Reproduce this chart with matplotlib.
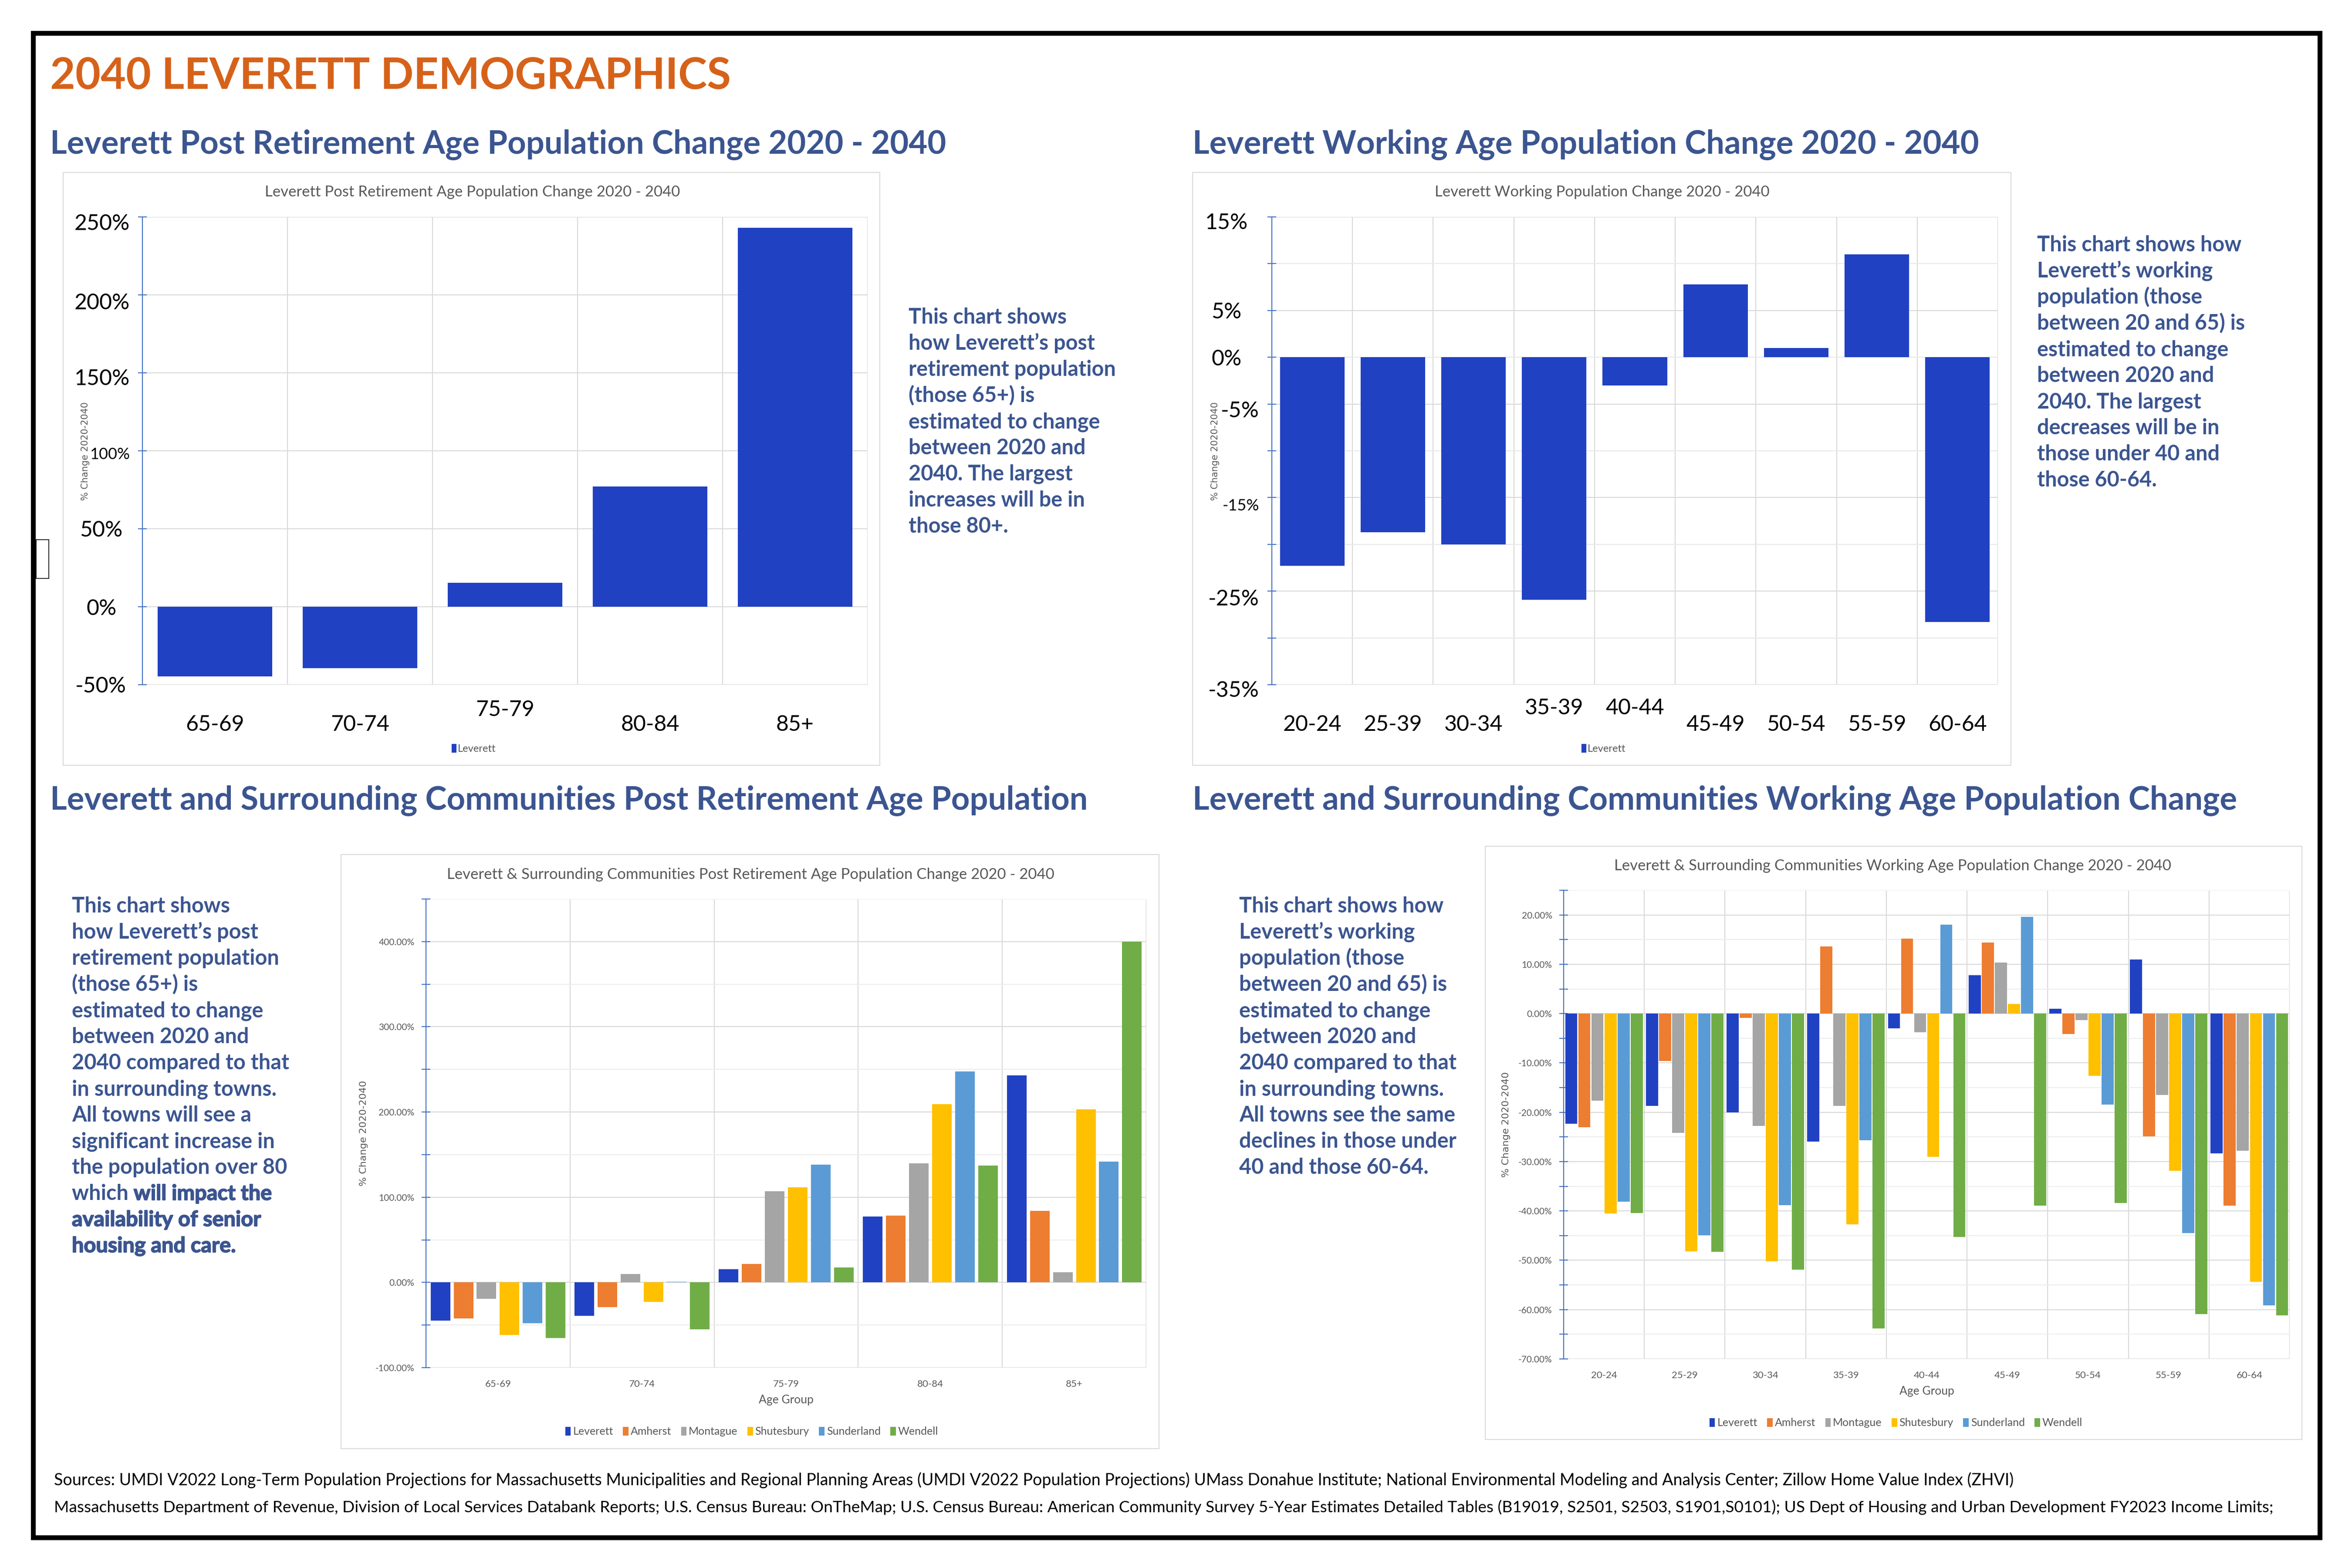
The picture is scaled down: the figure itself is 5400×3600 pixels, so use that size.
import matplotlib
matplotlib.use('Agg')
import numpy as np
import matplotlib.pyplot as plt
import matplotlib.transforms as mtrans
import matplotlib.patheffects as pe
from matplotlib.patches import Rectangle
from matplotlib.ticker import MultipleLocator

plt.rcParams['font.family'] = ['Lato', 'DejaVu Sans']

# ---- data (percent change 2020 -> 2040) ----
post_groups = ['65-69', '70-74', '75-79', '80-84', '85+']
post_leverett = [-44.7, -39.3, 15.5, 77.2, 242.9]
post_amherst = [-42.0, -28.8, 21.9, 78.5, 84.0]
post_montague = [-19.0, 10.0, 106.8, 139.7, 11.9]
post_shutesbury = [-61.6, -22.8, 111.4, 209.1, 203.2]
post_sunderland = [-48.0, 0.5, 138.4, 247.5, 141.6]
post_wendell = [-65.3, -54.8, 17.8, 137.4, 400.0]

work_groups = ['20-24', '25-39', '30-34', '35-39', '40-44', '45-49', '50-54', '55-59', '60-64']
work_groups_all = ['20-24', '25-29', '30-34', '35-39', '40-44', '45-49', '50-54', '55-59', '60-64']
work_leverett = [-22.3, -18.7, -20.0, -25.9, -3.0, 7.8, 1.0, 11.0, -28.3]
work_amherst = [-23.0, -9.6, -0.9, 13.6, 15.2, 14.4, -4.1, -24.9, -38.9]
work_montague = [-17.6, -24.2, -22.8, -18.7, -3.8, 10.3, -1.3, -16.5, -27.8]
work_shutesbury = [-40.5, -48.2, -50.2, -42.7, -29.0, 2.0, -12.6, -31.9, -54.4]
work_sunderland = [-38.1, -44.9, -38.8, -25.7, 18.0, 19.6, -18.4, -44.5, -59.1]
work_wendell = [-40.4, -48.3, -51.9, -63.8, -45.3, -38.9, -38.4, -60.9, -61.2]

towns = ['Leverett', 'Amherst', 'Montague', 'Shutesbury', 'Sunderland', 'Wendell']
town_colors = ['#2141C3', '#ED7D31', '#A5A5A5', '#FFC000', '#5B9BD5', '#70AD47']

ORANGE = '#D6621A'
NAVY = '#3B5590'
GRAY = '#595959'
GRID = '#D9D9D9'
AXBLUE = '#4472C4'

W, H = 5400, 3600
fig = plt.figure(figsize=(54, 36), dpi=100)


def rect(l, t, r, b):
    return [l / W, 1 - b / H, (r - l) / W, (b - t) / H]


def pt(x, y):
    return x / W, 1 - y / H


def shift(artist, dx, dy):
    off = mtrans.ScaledTranslation(dx / 100, -dy / 100, fig.dpi_scale_trans)
    artist.set_transform(artist.get_transform() + off)


def box(l, t, r, b, ec=GRID, lw=1.5):
    fig.patches.append(Rectangle(pt(l, b), (r - l) / W, (b - t) / H,
                                 transform=fig.transFigure, fill=False,
                                 ec=ec, lw=lw))


def base_axis(ax, n, ymin, ymax, step):
    ax.set_xlim(-0.5, n - 0.5)
    ax.set_ylim(ymin, ymax)
    for s in ['top', 'right', 'bottom']:
        ax.spines[s].set_visible(False)
    ax.spines['left'].set_color(AXBLUE)
    ax.spines['left'].set_linewidth(1.6)
    ax.spines['left'].set_zorder(6)
    ax.yaxis.set_major_locator(MultipleLocator(step))
    ax.tick_params(axis='y', direction='inout', length=14, width=1.6, color=AXBLUE)
    ax.tick_params(axis='x', length=0)
    for x in np.arange(-0.5, n, 1.0):
        ax.axvline(x, color=GRID, lw=1.6, zorder=0)


# ---- frame ----
box(76, 76, 5326, 3530, ec='black', lw=8)
box(83, 1239, 112, 1328, ec='black', lw=1.2)

fig.text(*pt(115, 204), '2040 LEVERETT DEMOGRAPHICS', color=ORANGE,
         fontsize=72, fontweight='bold', va='baseline')

headings = [
    (115, 353, 'Leverett Post Retirement Age Population Change 2020 - 2040'),
    (2738, 353, 'Leverett Working Age Population Change 2020 - 2040'),
    (115, 1859, 'Leverett and Surrounding Communities Post Retirement Age Population'),
    (2738, 1859, 'Leverett and Surrounding Communities Working Age Population Change'),
]
for x, y, s in headings:
    fig.text(*pt(x, y), s, color=NAVY, fontsize=53.5, fontweight='bold', va='baseline')

heavy = [pe.withStroke(linewidth=1.4, foreground=NAVY)]


def write_block(x, y0, lines, size=35, gap=60):
    for i, line in enumerate(lines):
        y = y0 + i * gap
        if isinstance(line, list):
            first = fig.text(*pt(x, y), line[0][0], color=NAVY, fontsize=size,
                             fontweight='bold', va='baseline',
                             path_effects=heavy if line[0][1] else None)
            if len(line) > 1:
                fig.canvas.draw()
                bb = first.get_window_extent()
                fig.text(bb.x1 / W, 1 - y / H, line[1][0], color=NAVY, fontsize=size,
                         fontweight='bold', va='baseline',
                         path_effects=heavy if line[1][1] else None)
        else:
            fig.text(*pt(x, y), line, color=NAVY, fontsize=size,
                     fontweight='bold', va='baseline')


write_block(2086, 743, ['This chart shows', 'how Leverett\u2019s post',
                        'retirement population', '(those 65+) is',
                        'estimated to change', 'between 2020 and',
                        '2040. The largest', 'increases will be in', 'those 80+.'])
write_block(4677, 577, ['This chart shows how', 'Leverett\u2019s working',
                        'population (those', 'between 20 and 65) is',
                        'estimated to change', 'between 2020 and',
                        '2040. The largest', 'decreases will be in',
                        'those under 40 and', 'those 60-64.'])
write_block(165, 2095, ['This chart shows', 'how Leverett\u2019s post',
                        'retirement population', '(those 65+) is',
                        'estimated to change', 'between 2020 and',
                        '2040 compared to that', 'in surrounding towns.',
                        'All towns will see a', 'significant increase in',
                        'the population over 80',
                        [('which ', False), ('will impact the', True)],
                        [('availability of senior', True)],
                        [('housing and care.', True)]])
write_block(2845, 2095, ['This chart shows how', 'Leverett\u2019s working',
                         'population (those', 'between 20 and 65) is',
                         'estimated to change', 'between 2020 and',
                         '2040 compared to that', 'in surrounding towns.',
                         'All towns see the same', 'declines in those under',
                         '40 and those 60-64.'])

# ---- chart 1: Leverett post retirement ----
box(145, 396, 2020, 1757)
ax1 = fig.add_axes(rect(327, 498, 1992, 1572))
base_axis(ax1, len(post_groups), -50, 250, 50)
for y in range(-50, 251, 50):
    ax1.axhline(y, color=GRID, lw=1.6, zorder=0)
x1 = np.arange(len(post_groups))
ax1.bar(x1, post_leverett, width=0.79, color=town_colors[0], zorder=3, label='Leverett')
ax1.set_yticks(range(-50, 251, 50))
ax1.set_yticklabels([f'{v}%' for v in range(-50, 251, 50)], fontsize=36)
ax1.tick_params(axis='y', pad=14)
y1_shift = {-50: (-8, 0), 0: (-30, 0), 50: (-16, 0), 100: (0, 6), 150: (0, 10), 200: (0, 14), 250: (0, 12)}
for v, lab in zip(range(-50, 251, 50), ax1.get_yticklabels()):
    if v == 100:
        lab.set_fontsize(26)
    shift(lab, *y1_shift[v])
ax1.set_xticks(x1)
ax1.set_xticklabels(post_groups, fontsize=36)
ax1.tick_params(axis='x', pad=50)
shift(ax1.get_xticklabels()[2], 0, -34)
fig.text(*pt(1085, 441), 'Leverett Post Retirement Age Population Change 2020 - 2040',
         color=GRAY, fontsize=25, ha='center', va='center')
fig.text(*pt(196, 1036), '% Change 2020-2040', family='DejaVu Sans', color=GRAY,
         fontsize=15, rotation=90, ha='center', va='center')
fig.legend(*ax1.get_legend_handles_labels(), loc='center', bbox_to_anchor=pt(1088, 1719),
           frameon=False, fontsize=17, handlelength=0.45, handleheight=0.9,
           handletextpad=0.15, labelcolor=GRAY)

# ---- chart 2: Leverett working age ----
box(2738, 396, 4617, 1757)
ax2 = fig.add_axes(rect(2920, 498, 4587, 1572))
base_axis(ax2, len(work_groups), -35, 15, 5)
for y in range(-35, 16, 5):
    ax2.axhline(y, color=GRID if y % 10 else '#E8E8E8', lw=1.6, zorder=0)
x2 = np.arange(len(work_groups))
ax2.bar(x2, work_leverett, width=0.8, color=town_colors[0], zorder=3, label='Leverett')
yt2 = list(range(-35, 16, 5))
ax2.set_yticks(yt2)
shown2 = {15: '15%', 5: '5%', 0: '0%', -5: '-5%', -15: '-15%', -25: '-25%', -35: '-35%'}
ax2.set_yticklabels([shown2.get(v, '') for v in yt2], fontsize=36)
ax2.tick_params(axis='y', pad=14)
y2_shift = {15: (-26, 10), 5: (-40, 0), 0: (-40, 0), -5: (0, 12), -15: (0, 16), -25: (0, 14), -35: (0, 10)}
for v, lab in zip(yt2, ax2.get_yticklabels()):
    if v == -15:
        lab.set_fontsize(26)
    if v in y2_shift:
        shift(lab, *y2_shift[v])
ax2.set_xticks(x2)
ax2.set_xticklabels(work_groups, fontsize=36)
ax2.tick_params(axis='x', pad=50)
for i in (3, 4):
    shift(ax2.get_xticklabels()[i], 0, -38)
fig.text(*pt(3678, 441), 'Leverett Working Population Change 2020 - 2040',
         color=GRAY, fontsize=25, ha='center', va='center')
fig.text(*pt(2790, 1036), '% Change 2020-2040', family='DejaVu Sans', color=GRAY,
         fontsize=15, rotation=90, ha='center', va='center')
fig.legend(*ax2.get_legend_handles_labels(), loc='center', bbox_to_anchor=pt(3682, 1719),
           frameon=False, fontsize=17, handlelength=0.45, handleheight=0.9,
           handletextpad=0.15, labelcolor=GRAY)


def grouped(ax, n, series, slot, bw):
    xs = np.arange(n)
    k = len(series)
    for j, (vals, name, c) in enumerate(zip(series, towns, town_colors)):
        off = (j - (k - 1) / 2) * slot
        ax.bar(xs + off, vals, width=bw, color=c, zorder=3, label=name)
    return xs


def pct_labels(ax, ticks):
    ax.set_yticks(ticks)
    ax.set_yticklabels([f'{v:.2f}%' for v in ticks], fontsize=15, color=GRAY)
    ax.tick_params(axis='y', pad=12)


# ---- chart 3: surrounding communities post retirement ----
box(783, 1962, 2661, 3326)
ax3 = fig.add_axes(rect(978, 2064, 2632, 3140))
base_axis(ax3, len(post_groups), -100, 450, 50)
for y in range(-100, 451, 50):
    ax3.axhline(y, color=GRID if y % 100 == 0 else '#EDEDED', lw=1.6, zorder=0)
post_all = [post_leverett, post_amherst, post_montague, post_shutesbury,
            post_sunderland, post_wendell]
x3 = grouped(ax3, len(post_groups), post_all, 0.16, 0.136)
pct_labels(ax3, list(range(-100, 401, 100)))
ax3.set_yticks(range(-100, 451, 50), minor=True)
ax3.tick_params(axis='y', which='minor', direction='inout', length=14, width=1.6, color=AXBLUE)
ax3.set_xticks(x3)
ax3.set_xticklabels(post_groups, fontsize=16, color=GRAY)
ax3.tick_params(axis='x', pad=20)
ax3.set_xlabel('Age Group', fontsize=19, color=GRAY, labelpad=10)
fig.text(*pt(1723, 2008), 'Leverett & Surrounding Communities Post Retirement Age Population Change 2020 - 2040',
         color=GRAY, fontsize=25, ha='center', va='center')
fig.text(*pt(835, 2602), '% Change 2020-2040', family='DejaVu Sans', color=GRAY,
         fontsize=16, rotation=90, ha='center', va='center')
fig.legend(*ax3.get_legend_handles_labels(), loc='center', bbox_to_anchor=pt(1726, 3287),
           ncol=6, frameon=False, fontsize=18, handlelength=0.5, handleheight=0.9,
           handletextpad=0.2, columnspacing=0.9, labelcolor=GRAY)

# ---- chart 4: surrounding communities working age ----
box(3410, 1943, 5285, 3305)
ax4 = fig.add_axes(rect(3590, 2044, 5257, 3120))
base_axis(ax4, len(work_groups_all), -70, 25, 10)
for y in range(-70, 26, 5):
    ax4.axhline(y, color=GRID if y % 10 == 0 else '#EDEDED', lw=1.6, zorder=0)
work_all = [work_leverett, work_amherst, work_montague, work_shutesbury,
            work_sunderland, work_wendell]
x4 = grouped(ax4, len(work_groups_all), work_all, 0.162, 0.15)
pct_labels(ax4, list(range(-70, 21, 10)))
ax4.set_yticks(range(-70, 26, 5), minor=True)
ax4.tick_params(axis='y', which='minor', direction='inout', length=14, width=1.6, color=AXBLUE)
ax4.set_xticks(x4)
ax4.set_xticklabels(work_groups_all, fontsize=16, color=GRAY)
ax4.tick_params(axis='x', pad=20)
ax4.set_xlabel('Age Group', fontsize=19, color=GRAY, labelpad=10)
fig.text(*pt(4345, 1988), 'Leverett & Surrounding Communities Working Age Population Change 2020 - 2040',
         color=GRAY, fontsize=25, ha='center', va='center')
fig.text(*pt(3458, 2582), '% Change 2020-2040', family='DejaVu Sans', color=GRAY,
         fontsize=16, rotation=90, ha='center', va='center')
fig.legend(*ax4.get_legend_handles_labels(), loc='center', bbox_to_anchor=pt(4353, 3267),
           ncol=6, frameon=False, fontsize=18, handlelength=0.5, handleheight=0.9,
           handletextpad=0.2, columnspacing=0.9, labelcolor=GRAY)

# ---- sources ----
src1 = ('Sources: UMDI V2022 Long-Term Population Projections for Massachusetts Municipalities and '
        'Regional Planning Areas (UMDI V2022 Population Projections) UMass Donahue Institute; '
        'National Environmental Modeling and Analysis Center; Zillow Home Value Index (ZHVI)')
src2 = ('Massachusetts Department of Revenue, Division of Local Services Databank Reports; '
        'U.S. Census Bureau: OnTheMap; U.S. Census Bureau: American Community Survey 5-Year '
        'Estimates Detailed Tables (B19019, S2501, S2503, S1901,S0101); US Dept of Housing and '
        'Urban Development FY2023 Income Limits;')
fig.text(*pt(124, 3410), src1, fontsize=27, va='baseline', color='black')
fig.text(*pt(124, 3472), src2, fontsize=26.7, va='baseline', color='black')

fig.savefig('out.png', dpi=100, facecolor='white')
